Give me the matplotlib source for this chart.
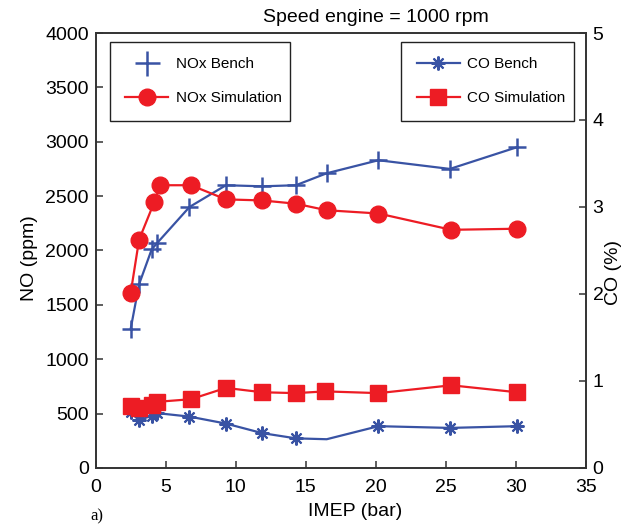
import matplotlib
matplotlib.use("Agg")
import matplotlib.pyplot as plt
from matplotlib.lines import Line2D

plt.rcParams['font.family'] = ['Liberation Sans', 'DejaVu Sans']

# IMEP (bar) for each series
imep_bench = [2.5, 3.1, 4.0, 4.4, 6.7, 9.3, 11.9, 14.3, 16.5, 20.2, 25.3, 30.1]
imep_sim = [2.5, 3.1, 4.2, 4.6, 6.8, 9.3, 11.9, 14.3, 16.5, 20.2, 25.4, 30.1]
imep_co_sim = [2.5, 3.1, 4.0, 4.4, 6.8, 9.3, 11.9, 14.3, 16.4, 20.2, 25.4, 30.1]

# NO (ppm)
nox_bench = [1280, 1690, 2010, 2070, 2400, 2600, 2590, 2600, 2710, 2830, 2750, 2950]
nox_sim = [1610, 2100, 2450, 2600, 2600, 2470, 2460, 2430, 2370, 2340, 2190, 2200]

# CO (%)
co_bench = [0.64, 0.55, 0.60, 0.63, 0.59, 0.51, 0.40, 0.34, 0.33, 0.48, 0.46, 0.48]
co_sim = [0.71, 0.69, 0.72, 0.76, 0.79, 0.92, 0.87, 0.86, 0.88, 0.86, 0.95, 0.87]

blue = '#3953a4'
red = '#ed1c24'
spine_col = '#333333'

fig = plt.figure(figsize=(6.38, 5.24), dpi=100)
ax = fig.add_axes([0.150, 0.107, 0.768, 0.830])
ax2 = ax.twinx()

# NOx on the left axis
ax.plot(imep_bench, nox_bench, color=blue, lw=1.6, marker='+', ms=13, mew=1.8)
ax.plot(imep_sim, nox_sim, color=red, lw=1.6, marker='o', ms=12)

# CO on the right axis (marker hidden at 16.5 bar)
marks = [i for i in range(len(imep_bench)) if i != 8]
ax2.plot(imep_bench, co_bench, color=blue, lw=1.6, marker=(8, 2, 0), ms=10, mew=1.5,
         markevery=marks)
ax2.plot(imep_co_sim, co_sim, color=red, lw=1.6, marker='s', ms=11.5)

ax.set_xlim(0, 35)
ax.set_ylim(0, 4000)
ax2.set_ylim(0, 5)
ax.set_xticks(range(0, 36, 5))
ax.set_yticks(range(0, 4001, 500))
ax2.set_yticks(range(0, 6))

for a in (ax, ax2):
    for s in a.spines.values():
        s.set_color(spine_col)
        s.set_linewidth(1.2)
    a.tick_params(direction='in', length=5, width=1.1, color=spine_col,
                  labelsize=14, pad=5)
ax.tick_params(axis='y', right=False)
ax.tick_params(axis='x', top=False, pad=8)

ax.set_ylabel('NO (ppm)', fontsize=14)
ax.yaxis.set_label_coords(-0.118, 0.483)
ax2.set_ylabel('CO (%)', fontsize=14)
ax2.yaxis.set_label_coords(1.039, 0.45)
ax.set_xlabel('IMEP (bar)', fontsize=14)
ax.xaxis.set_label_coords(0.53, -0.08)

fig.text(376 / 638, 1 - 17 / 524, 'Speed engine = 1000 rpm', fontsize=14,
         ha='center', va='center')
fig.text(97 / 638, 1 - 516 / 524, 'a)', fontsize=12, family='Liberation Serif',
         ha='center', va='center')

# legends
h1 = [Line2D([], [], color=blue, ls='none', marker='+', ms=18, mew=1.8),
      Line2D([], [], color=red, lw=1.6, marker='o', ms=12)]
leg1 = ax.legend(h1, ['NOx Bench', 'NOx Simulation'], loc='upper left',
                 bbox_to_anchor=(0.029, 0.805, 0.367, 0.174), mode='expand',
                 fontsize=11, frameon=True, fancybox=False, edgecolor='#222222',
                 framealpha=1, borderaxespad=0, handlelength=2.8, handletextpad=0.5,
                 labelspacing=1.3, borderpad=1.0)
leg1.get_frame().set_linewidth(1.0)

h2 = [Line2D([], [], color=blue, lw=1.6, marker=(8, 2, 0), ms=10, mew=1.5),
      Line2D([], [], color=red, lw=1.6, marker='s', ms=11.5)]
leg2 = ax2.legend(h2, ['CO Bench', 'CO Simulation'], loc='upper left',
                  bbox_to_anchor=(0.624, 0.805, 0.352, 0.174), mode='expand',
                  fontsize=11, frameon=True, fancybox=False, edgecolor='#222222',
                  framealpha=1, borderaxespad=0, handlelength=2.8, handletextpad=0.5,
                  labelspacing=1.3, borderpad=1.0)
leg2.get_frame().set_linewidth(1.0)

fig.savefig('out.png', dpi=100)
